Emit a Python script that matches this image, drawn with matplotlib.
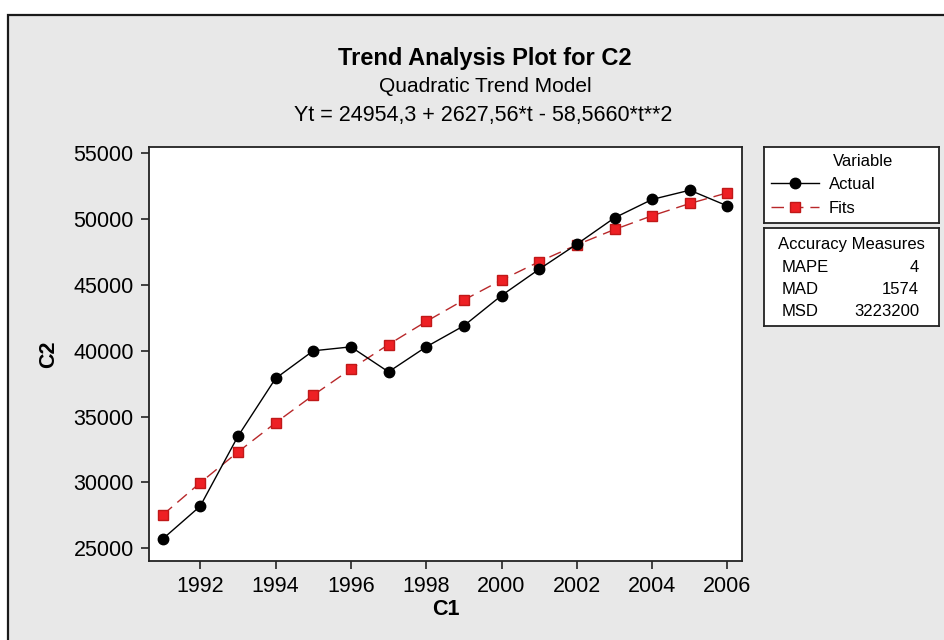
import matplotlib
matplotlib.use("Agg")
import matplotlib.pyplot as plt
from matplotlib.patches import Rectangle

plt.rcParams['font.family'] = ['Liberation Sans', 'DejaVu Sans']

years = list(range(1991, 2007))
actual = [25700, 28200, 33500, 37900, 40000, 40300, 38400, 40300,
          41900, 44200, 46200, 48100, 50100, 51500, 52200, 51000]
fits = [27523.3, 29975.2, 32309.9, 34527.5, 36628.0, 38611.3, 40477.5, 42226.6,
        43858.5, 45373.3, 46771.0, 48051.5, 49214.9, 50261.2, 51190.4, 52002.4]

measure_names = ["MAPE", "MAD", "MSD"]
measure_values = ["4", "1574", "3223200"]

W, H = 945, 640
fig = plt.figure(figsize=(W / 100, H / 100), dpi=100, facecolor="white")

# grey panel with dark frame (runs off the right/bottom edge)
fig.patches.append(Rectangle((8.5 / W, -0.1), 1.1, 1.1 - 14.5 / H, transform=fig.transFigure,
                             facecolor="#e8e8e8", edgecolor="#1a1a1a", linewidth=1.6, zorder=-10))

ax = fig.add_axes([149 / W, 1 - 561 / H, 593 / W, 414 / H])
ax.set_facecolor("white")
ax.plot(years, actual, color="black", linewidth=1.0, marker="o", markersize=7.5,
        markerfacecolor="black", label="Actual", zorder=3)
ax.plot(years, fits, color="#b8282a", linewidth=1.0, linestyle=(0, (9, 5)), marker="s",
        markersize=7.5, markerfacecolor="#ee2024", markeredgecolor="#c01818", label="Fits", zorder=2)

ax.set_xlim(1990.64, 2006.385)
ax.set_ylim(24035, 55480)
ax.set_xticks(range(1992, 2007, 2))
ax.set_yticks(range(25000, 55001, 5000))
ax.tick_params(axis="both", labelsize=15.5, length=6, width=1.2, color="#222222", pad=5)
for s in ax.spines.values():
    s.set_linewidth(1.3)
    s.set_color("#222222")
ax.set_xlabel("C1", fontsize=15.5, fontweight="bold", labelpad=1)
ax.set_ylabel("C2", fontsize=15.5, fontweight="bold", labelpad=10)

fig.text(485 / W, 1 - 58 / H, "Trend Analysis Plot for C2", ha="center", va="center",
         fontsize=17, fontweight="bold")
fig.text(485 / W, 1 - 87 / H, "Quadratic Trend Model", ha="center", va="center", fontsize=15)
fig.text(483 / W, 1 - 115 / H, "Yt = 24954,3 + 2627,56*t - 58,5660*t**2", ha="center",
         va="center", fontsize=15.5)

# legend box
lax = fig.add_axes([764 / W, 1 - 223 / H, 175 / W, 76 / H])
lax.set_xticks([])
lax.set_yticks([])
lax.set_xlim(0, 175)
lax.set_ylim(76, 0)
for s in lax.spines.values():
    s.set_linewidth(1.3)
    s.set_color("#222222")
lax.text(99, 15, "Variable", ha="center", va="center", fontsize=12)
handles, labels = ax.get_legend_handles_labels()
lax.legend(handles, labels, loc="upper left", bbox_to_anchor=(7 / 175, 0.61),
           frameon=False, fontsize=12, handlelength=2.9, handletextpad=0.55,
           labelspacing=0.57, borderaxespad=0, borderpad=0)

# accuracy measures box
aax = fig.add_axes([764 / W, 1 - 326 / H, 175 / W, 98 / H])
aax.set_xticks([])
aax.set_yticks([])
aax.set_xlim(0, 175)
aax.set_ylim(98, 0)
for s in aax.spines.values():
    s.set_linewidth(1.3)
    s.set_color("#222222")
aax.text(87, 16, "Accuracy Measures", ha="center", va="center", fontsize=12)
for i, (n, v) in enumerate(zip(measure_names, measure_values)):
    y = 39 + i * 22.5
    aax.text(18, y, n, ha="left", va="center", fontsize=12)
    aax.text(155, y, v, ha="right", va="center", fontsize=12)

fig.savefig("out.png", dpi=100, facecolor=fig.get_facecolor())
